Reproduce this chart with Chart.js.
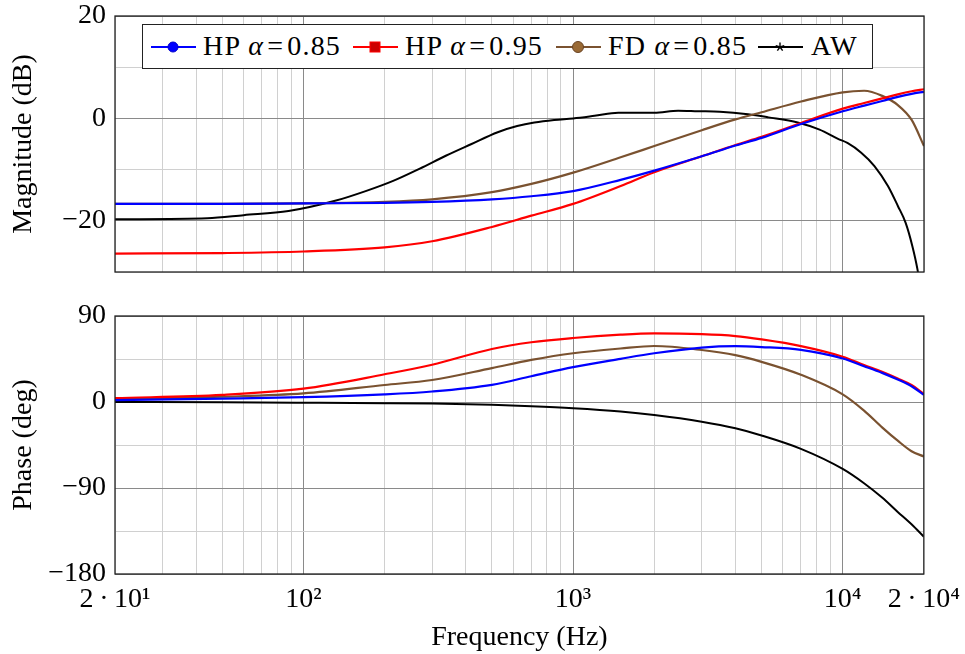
<!DOCTYPE html>
<html>
<head>
<meta charset="utf-8">
<script src="https://cdn.jsdelivr.net/npm/chart.js@4.4.1/dist/chart.umd.min.js"></script>
<style>
  body { margin: 0; background: #fff; overflow: hidden; }
  #wrap { position: relative; width: 965px; height: 654px; overflow: hidden; font-family: 'Liberation Serif', serif; }
  canvas { position: absolute; left: 0; }
  #magChart { top: 0; }
  #phaseChart { top: 292px; }
  #legend {
    position: absolute; left: 142px; top: 24px; width: 731px; height: 45px;
    border: 1.3px solid #222; background: #fff; box-sizing: border-box;
  }
  .item { position: absolute; top: 0; height: 42px; font-size: 28px; white-space: nowrap; }
  .item svg { position: absolute; top: 15px; }
  .item span { position: absolute; top: 5px; letter-spacing: 1.2px; }
  .item b { font-weight: normal; margin: 0 3px; }
</style>
</head>
<body>
<div id="wrap">
  <canvas id="magChart" width="965" height="292"></canvas>
  <canvas id="phaseChart" width="965" height="362"></canvas>
  <div id="legend"></div>
</div>
<script>
// frequency grid (Hz)
const freqs = [20, 50, 100, 200, 300, 500, 700, 1000, 1500, 2000, 3000, 4000, 5000, 7000, 10000, 12000, 14000, 16000, 18000, 20000];

// magnitude (dB)
const magHP85 = [-16.7, -16.7, -16.6, -16.5, -16.3, -15.8, -15.2, -14.2, -12.0, -10.2, -7.4, -5.3, -3.8, -1.1, 1.4, 2.5, 3.4, 4.2, 4.8, 5.2];
const magHP95 = [-26.4, -26.3, -26.0, -25.2, -24.0, -21.2, -19.0, -16.7, -13.2, -10.5, -7.4, -5.2, -3.6, -0.9, 1.9, 3.0, 3.9, 4.7, 5.3, 5.7];
const magFD85 = [-16.7, -16.7, -16.6, -16.3, -15.8, -14.4, -12.8, -10.6, -7.6, -5.4, -2.3, -0.2, 1.2, 3.3, 5.1, 5.4, 4.4, 2.6, -0.3, -5.4];

// AW magnitude has its own sample points
const freqsAW = [20, 44, 60, 88, 131, 170, 215, 270, 337, 420, 525, 620, 718, 850, 1000, 1200, 1470, 2000, 2450, 2900, 3500, 4450, 5300, 6800, 8200, 9600, 10400, 11700, 13100, 14700, 16000, 17100, 18100, 18900, 20000];
const magAW = [-19.7, -19.5, -18.9, -18.1, -16.1, -14.2, -12.2, -9.8, -7.3, -5.0, -2.7, -1.5, -0.8, -0.3, 0, 0.5, 1.1, 1.1, 1.5, 1.4, 1.3, 0.8, 0.2, -0.8, -2.2, -4.0, -4.8, -6.7, -9.3, -13.2, -17.1, -20.4, -24.9, -29.4, -38];

// phase (deg)
const phHP85 = [2, 3.5, 5, 8, 11, 18, 27, 36.5, 45.2, 51, 57, 58.5, 57.5, 54.5, 45.5, 37.5, 30.5, 23.5, 16.5, 7.5];
const phHP95 = [4, 7.5, 14, 29, 39, 55.5, 62.5, 67, 70.5, 71.8, 71, 69, 65.5, 58.5, 47.4, 38.7, 31.7, 24.7, 17.8, 8.5];
const phFD85 = [2.8, 5.5, 9, 17.8, 23, 35.5, 44, 51, 56, 58.6, 54.4, 49, 42, 28.5, 8, -9, -26.5, -40.5, -51.5, -57];
const phAW = [0, -0.3, -0.7, -1.2, -1.7, -3, -4.5, -6.6, -10, -13.6, -20.6, -27.5, -35, -49, -70, -85, -100, -115, -128, -141];

const xTicks = [20, 30, 40, 50, 60, 70, 80, 90, 100, 200, 300, 400, 500, 600, 700, 800, 900,
  1000, 2000, 3000, 4000, 5000, 6000, 7000, 8000, 9000, 10000, 20000];
const xLabels = { 20: '2\u2009·\u200910¹', 100: '10²', 1000: '10³', 10000: '10⁴', 20000: '2\u2009·\u200910⁴' };

const series = [
  { label: 'HP', alpha: '0.85', color: '#0000ff', mark: 'circle', mag: magHP85, ph: phHP85 },
  { label: 'HP', alpha: '0.95', color: '#ff0000', mark: 'square', mag: magHP95, ph: phHP95 },
  { label: 'FD', alpha: '0.85', color: '#7a5230', mark: 'brown', mag: magFD85, ph: phFD85 },
  { label: 'AW', alpha: null, color: '#000000', mark: 'star', mag: magAW, ph: phAW, magX: freqsAW }
];

const FONT = { family: "'Liberation Serif', serif", size: 28, lineHeight: 1 };
const MAJOR = '#8a8a8a';
const MINOR = '#d0d0d0';

function toPoints(xs, ys) {
  return xs.map((x, i) => ({ x: x, y: ys[i] }));
}

function fmt(v) {
  return v < 0 ? '\u2212' + Math.abs(v) : String(v);
}

// black frame round the plot area
const framePlugin = {
  id: 'frame',
  afterDraw(chart) {
    const { ctx, chartArea: a } = chart;
    ctx.save();
    ctx.strokeStyle = '#222';
    ctx.lineWidth = 1.3;
    ctx.strokeRect(a.left, a.top, a.right - a.left, a.bottom - a.top);
    ctx.restore();
  }
};

function xScale(showLabels) {
  return {
    type: 'logarithmic',
    min: 20,
    max: 20000,
    afterBuildTicks: s => { s.ticks = xTicks.map(v => ({ value: v })); },
    afterFit: s => { s.height = showLabels ? 80 : 0; },
    grid: {
      drawTicks: false,
      lineWidth: 1,
      color: c => {
        const v = c.tick ? c.tick.value : 0;
        return Number.isInteger(Math.log10(v)) ? MAJOR : MINOR;
      }
    },
    border: { display: false },
    ticks: {
      display: showLabels,
      autoSkip: false,
      maxRotation: 0,
      padding: 12,
      color: '#000',
      font: FONT,
      callback: v => xLabels[v] || ''
    },
    title: {
      display: showLabels,
      text: 'Frequency (Hz)',
      color: '#000',
      font: FONT,
      padding: { top: 0, bottom: 2 }
    }
  };
}

function yScale(min, max, step, major, title) {
  return {
    min: min,
    max: max,
    afterFit: s => { s.width = 115; },
    grid: {
      drawTicks: false,
      lineWidth: 1,
      color: c => (c.tick && c.tick.value % major === 0) ? MAJOR : MINOR
    },
    border: { display: false },
    ticks: {
      stepSize: step,
      autoSkip: false,
      padding: 9,
      color: '#000',
      font: FONT,
      callback: v => (v % major === 0 ? fmt(v) : '')
    },
    title: {
      display: true,
      text: title,
      color: '#000',
      font: FONT,
      padding: { top: 10, bottom: 0 }
    }
  };
}

function makeChart(canvas, datasets, y, showX, padding) {
  return new Chart(canvas, {
    type: 'line',
    data: { datasets: datasets },
    options: {
      responsive: false,
      maintainAspectRatio: false,
      animation: false,
      devicePixelRatio: 1,
      layout: { padding: padding },
      elements: { point: { radius: 0 } },
      plugins: { legend: { display: false }, tooltip: { enabled: false } },
      scales: { x: xScale(showX), y: y }
    },
    plugins: [framePlugin]
  });
}

// build once to measure, then resize the canvas so the plot area lands where the reference has it
function placeChart(id, datasets, y, showX, padding, area) {
  const canvas = document.getElementById(id);
  const probe = makeChart(canvas, datasets, y, showX, padding);
  const a = probe.chartArea;
  const gapBottom = probe.height - a.bottom;
  const gapRight = probe.width - a.right;
  const top = a.top;
  const left = a.left;
  probe.destroy();
  canvas.height = Math.round(top + (area.bottom - area.top) + gapBottom);
  canvas.width = Math.round(left + (area.right - area.left) + gapRight);
  canvas.style.top = Math.round(area.top - top) + 'px';
  canvas.style.left = Math.round(area.left - left) + 'px';
  return makeChart(canvas, datasets, y, showX, padding);
}

function lineSets(key) {
  return series.map(s => ({
    label: s.label,
    data: toPoints(key === 'mag' ? (s.magX || freqs) : freqs, s[key]),
    borderColor: s.color,
    borderWidth: s.mark === 'star' ? 2 : 2.2,
    cubicInterpolationMode: 'monotone',
    fill: false
  }));
}

placeChart('magChart', lineSets('mag'), yScale(-30, 20, 10, 20, 'Magnitude (dB)'), false,
  { left: 0, top: 16, right: 41, bottom: 20 }, { left: 115, right: 924, top: 16, bottom: 272 });
placeChart('phaseChart', lineSets('ph'), yScale(-180, 90, 45, 90, 'Phase (deg)'), true,
  { left: 0, top: 24, right: 41, bottom: 0 }, { left: 115, right: 924, top: 316, bottom: 574 });

// legend drawn inside the top plot, like the pgfplots one
function markerSvg(s) {
  let m = '';
  if (s.mark === 'circle') m = `<circle cx="22" cy="7" r="5" fill="${s.color}" stroke="#0000cc"/>`;
  if (s.mark === 'square') m = `<rect x="17" y="2" width="10" height="10" fill="#cc0000" stroke="${s.color}"/>`;
  if (s.mark === 'brown') m = `<circle cx="22" cy="7" r="5.5" fill="#9a6a35" stroke="#6a4424"/>`;
  if (s.mark === 'star') {
    m = [0, 72, 144, 216, 288].map(a => {
      const r = a * Math.PI / 180;
      return `<line x1="22" y1="7" x2="${22 + 4.5 * Math.sin(r)}" y2="${7 - 4.5 * Math.cos(r)}" stroke="#000" stroke-width="1.4"/>`;
    }).join('');
  }
  return `<svg width="46" height="14"><line x1="0" y1="7" x2="45" y2="7" stroke="${s.color}" stroke-width="2.2"/>${m}</svg>`;
}

const legendMarkX = [8, 210, 413, 615];
const legendTextX = [60, 262, 465, 668];
const legend = document.getElementById('legend');
series.forEach((s, i) => {
  const item = document.createElement('div');
  item.className = 'item';
  item.style.left = legendMarkX[i] + 'px';
  const text = s.alpha ? `${s.label} <i>α</i><b>=</b>${s.alpha}` : s.label;
  item.innerHTML = markerSvg(s) + `<span style="left:${legendTextX[i] - legendMarkX[i]}px">${text}</span>`;
  legend.appendChild(item);
});
</script>
</body>
</html>
